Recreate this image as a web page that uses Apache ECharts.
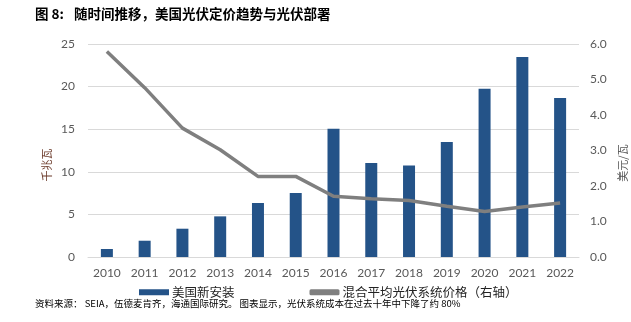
<!DOCTYPE html>
<html><head><meta charset="utf-8">
<script src="https://cdn.jsdelivr.net/npm/echarts@6/dist/echarts.min.js"></script>
<style>html,body{margin:0;padding:0;background:#fff}#c{width:631px;height:322px}</style>
</head><body><div id="c"></div>
<script>
const categories = ['2010','2011','2012','2013','2014','2015','2016','2017','2018','2019','2020','2021','2022'];
const installs = [0.94, 1.91, 3.32, 4.77, 6.34, 7.51, 15.06, 11.03, 10.75, 13.5, 19.75, 23.47, 18.66];
const prices = [5.79, 4.77, 3.63, 3.02, 2.27, 2.27, 1.71, 1.64, 1.59, 1.43, 1.28, 1.41, 1.52];
const leftTicks = [0, 5, 10, 15, 20, 25];
const rightTicks = [0, 1, 2, 3, 4, 5, 6];
const seriesNames = ['美国新安装', '混合平均光伏系统价格（右轴）'];
const titleLabel = '图 8:';
const titleText = '随时间推移，美国光伏定价趋势与光伏部署';
const sourceText = '资料来源： SEIA，伍德麦肯齐，海通国际研究。 图表显示，光伏系统成本在过去十年中下降了约 80%';
const leftName = '千兆瓦';
const rightName = '美元/瓦';

const cjk = '"Noto Sans CJK SC", sans-serif';
const num = 'Lato, "Noto Sans", sans-serif';
const chart = echarts.init(document.getElementById('c'));
chart.setOption({
  animation: false,
  grid: { left: 88, right: 52, top: 44, bottom: 65 },
  graphic: [
    { type: 'text', left: 35, top: 7, style: { text: titleLabel, font: 'bold 13.5px ' + cjk, fill: '#000' } },
    { type: 'text', left: 74, top: 7, style: { text: titleText, font: 'bold 13.5px ' + cjk, fill: '#000' } },
    { type: 'text', left: 35, top: 299, style: { text: sourceText, font: '9.5px ' + cjk, fill: '#000' } },
    { type: 'text', x: 47, y: 165, rotation: Math.PI / 2, style: { text: leftName, font: '11px ' + cjk, fill: '#6B3A2A', align: 'center', verticalAlign: 'middle' } },
    { type: 'text', x: 623, y: 163, rotation: Math.PI / 2, style: { text: rightName, font: '11px ' + cjk, fill: '#595959', align: 'center', verticalAlign: 'middle' } }
  ],
  legend: {
    left: 134, top: 281,
    itemWidth: 30, itemHeight: 6, itemGap: 75,
    textStyle: { fontFamily: cjk, fontSize: 12.5, color: '#222', padding: [0, 0, 0, -2] },
    data: [{ name: seriesNames[0], icon: 'rect' }, { name: seriesNames[1], icon: 'roundRect' }]
  },
  xAxis: {
    type: 'category', data: categories,
    axisLine: { lineStyle: { color: '#D9D9D9' } },
    axisTick: { show: false },
    axisLabel: { color: '#595959', fontFamily: num, fontSize: 12, margin: 10 }
  },
  yAxis: [
    { type: 'value', min: leftTicks[0], max: leftTicks[leftTicks.length - 1], interval: 5,
      axisLine: { show: false }, axisTick: { show: false },
      splitLine: { lineStyle: { color: '#D9D9D9' } },
      axisLabel: { color: '#595959', fontFamily: num, fontSize: 12, margin: 13 } },
    { type: 'value', min: rightTicks[0], max: rightTicks[rightTicks.length - 1], interval: 1,
      axisLine: { show: false }, axisTick: { show: false }, splitLine: { show: false },
      axisLabel: { color: '#595959', fontFamily: num, fontSize: 12, margin: 11, formatter: v => v.toFixed(1) } }
  ],
  series: [
    { name: seriesNames[0], type: 'bar', data: installs, barWidth: 12, itemStyle: { color: '#245388' } },
    { name: seriesNames[1], type: 'line', yAxisIndex: 1, data: prices, symbol: 'none',
      lineStyle: { color: '#7F7F7F', width: 3.5 }, itemStyle: { color: '#7F7F7F' } }
  ]
});
</script></body></html>
